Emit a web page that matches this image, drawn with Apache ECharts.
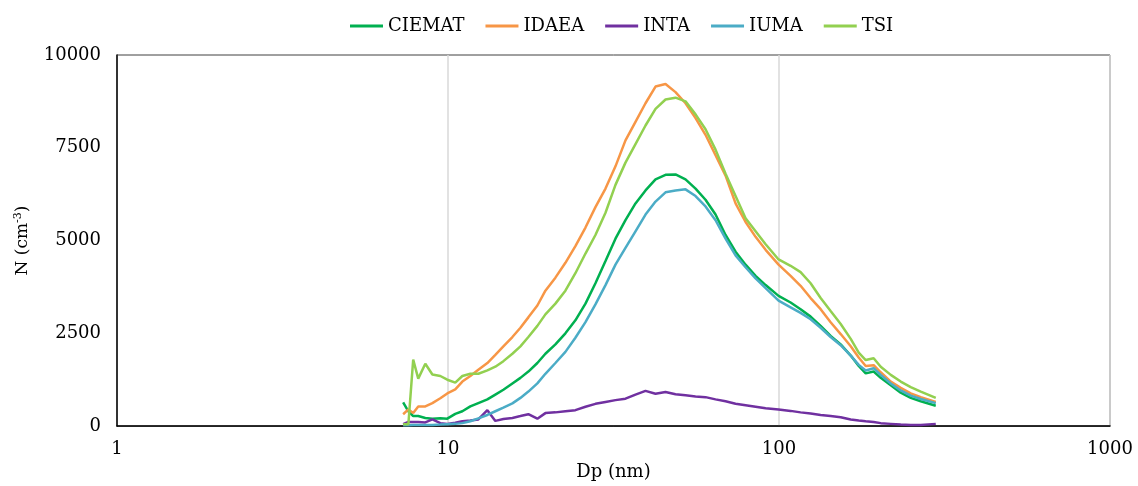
<!DOCTYPE html>
<html>
<head>
<meta charset="utf-8">
<script src="https://cdn.jsdelivr.net/npm/echarts@6/dist/echarts.min.js"></script>
<style>
html,body{margin:0;padding:0;background:#fff;}
#chart{width:1138px;height:486px;}
</style>
</head>
<body>
<div id="chart"></div>
<script>
const dp = [7.32,7.59,7.85,8.13,8.54,8.97,9.48,9.95,10.52,11.05,11.68,12.35,13.15,13.90,14.70,15.65,16.55,17.49,18.62,19.69,21.11,22.63,24.26,26.02,27.89,29.91,32.06,34.37,36.85,39.51,42.36,45.41,48.68,52.19,55.96,59.98,64.31,68.95,73.92,79.25,84.96,91.11,99.7,108.4,116.2,124.6,133.6,143.2,153.6,164.7,174.1,182.8,193.2,202.9,217.6,233.2,250.0,268.1,297.6];

const ciemat = [640,400,270,270,220,200,210,200,330,400,530,620,720,850,980,1150,1300,1470,1700,1950,2200,2500,2850,3300,3850,4450,5050,5550,6000,6350,6650,6770,6780,6650,6400,6100,5700,5150,4700,4350,4050,3800,3510,3330,3150,2950,2700,2430,2200,1900,1620,1420,1470,1300,1100,900,760,670,550];
const idaea = [320,450,350,530,530,620,750,880,990,1200,1350,1520,1700,1920,2150,2400,2650,2930,3250,3650,4000,4400,4850,5350,5900,6400,7000,7700,8200,8700,9150,9220,9000,8700,8300,7850,7300,6750,6000,5500,5100,4750,4350,4050,3780,3450,3150,2800,2480,2150,1850,1620,1640,1450,1200,1030,880,780,650];
const inta = [50,110,110,110,100,180,80,60,90,130,150,180,430,140,190,220,270,320,200,350,370,400,430,520,600,650,700,740,850,950,870,920,860,830,800,780,720,670,600,560,520,480,450,410,370,340,300,270,240,180,150,130,110,80,60,40,30,30,60];
const iuma = [20,20,30,30,30,30,40,50,60,80,130,210,300,400,500,613,760,930,1150,1410,1700,2000,2380,2800,3280,3800,4350,4800,5250,5700,6050,6300,6350,6380,6200,5920,5550,5050,4600,4280,3980,3720,3380,3200,3050,2880,2650,2400,2180,1900,1650,1500,1560,1380,1150,960,820,730,620];
const tsi = [50,50,1790,1280,1680,1390,1350,1250,1170,1350,1410,1410,1500,1600,1750,1950,2150,2400,2700,3010,3300,3650,4120,4650,5150,5750,6500,7100,7600,8100,8550,8800,8850,8750,8400,8000,7450,6800,6200,5600,5250,4900,4490,4320,4150,3850,3450,3100,2750,2350,1980,1780,1830,1600,1380,1200,1050,930,760];

const seriesNames = ['CIEMAT','IDAEA','INTA','IUMA','TSI'];
const seriesData = [ciemat, idaea, inta, iuma, tsi];
const colors = ['#00b050','#f79646','#7030a0','#4bacc6','#92d050'];
const yTicks = [0,2500,5000,7500,10000];

const font = 'DejaVu Serif';
const chart = echarts.init(document.getElementById('chart'));
chart.setOption({
  animation: false,
  color: colors,
  textStyle: {fontFamily: font},
  legend: {
    top: 12, left: 345,
    itemWidth: 33, itemHeight: 3, itemGap: 21,
    icon: 'rect',
    textStyle: {fontFamily: font, fontSize: 18, color: '#000'},
    data: seriesNames
  },
  grid: {left: 117, right: 28, top: 55, bottom: 56, show: true, borderColor: '#404040', borderWidth: 1},
  xAxis: {
    type: 'log', logBase: 10, min: 1, max: 1000,
    name: 'Dp (nm)', nameLocation: 'middle', nameGap: 33,
    nameTextStyle: {fontFamily: font, fontSize: 18, color: '#000'},
    axisLine: {lineStyle: {color: '#000', width: 1.5}},
    axisTick: {show: false},
    axisLabel: {fontFamily: font, fontSize: 18, color: '#000', margin: 14, formatter: v => String(v)},
    splitLine: {show: true, lineStyle: {color: '#d9d9d9', width: 1.5}}
  },
  yAxis: {
    type: 'value', min: yTicks[0], max: yTicks[yTicks.length-1], interval: 2500,
    name: '{a|N (cm}{b|-3}{a|)}', nameLocation: 'middle', nameGap: 84, nameRotate: 90,
    nameTextStyle: {
      rich: {
        a: {fontFamily: font, fontSize: 17, color: '#000', lineHeight: 20},
        b: {fontFamily: font, fontSize: 11, color: '#000', lineHeight: 12, verticalAlign: 'top'}
      }
    },
    axisLine: {show: true, lineStyle: {color: '#000', width: 1.5}},
    axisTick: {show: false},
    axisLabel: {fontFamily: font, fontSize: 18, color: '#000', margin: 16, formatter: v => String(v)},
    splitLine: {show: false}
  },
  series: seriesNames.map((n, i) => ({
    name: n, type: 'line', showSymbol: false, symbol: 'none',
    lineStyle: {width: 2.5, color: colors[i]},
    data: dp.map((x, j) => [x, seriesData[i][j]])
  }))
});
</script>
</body>
</html>
